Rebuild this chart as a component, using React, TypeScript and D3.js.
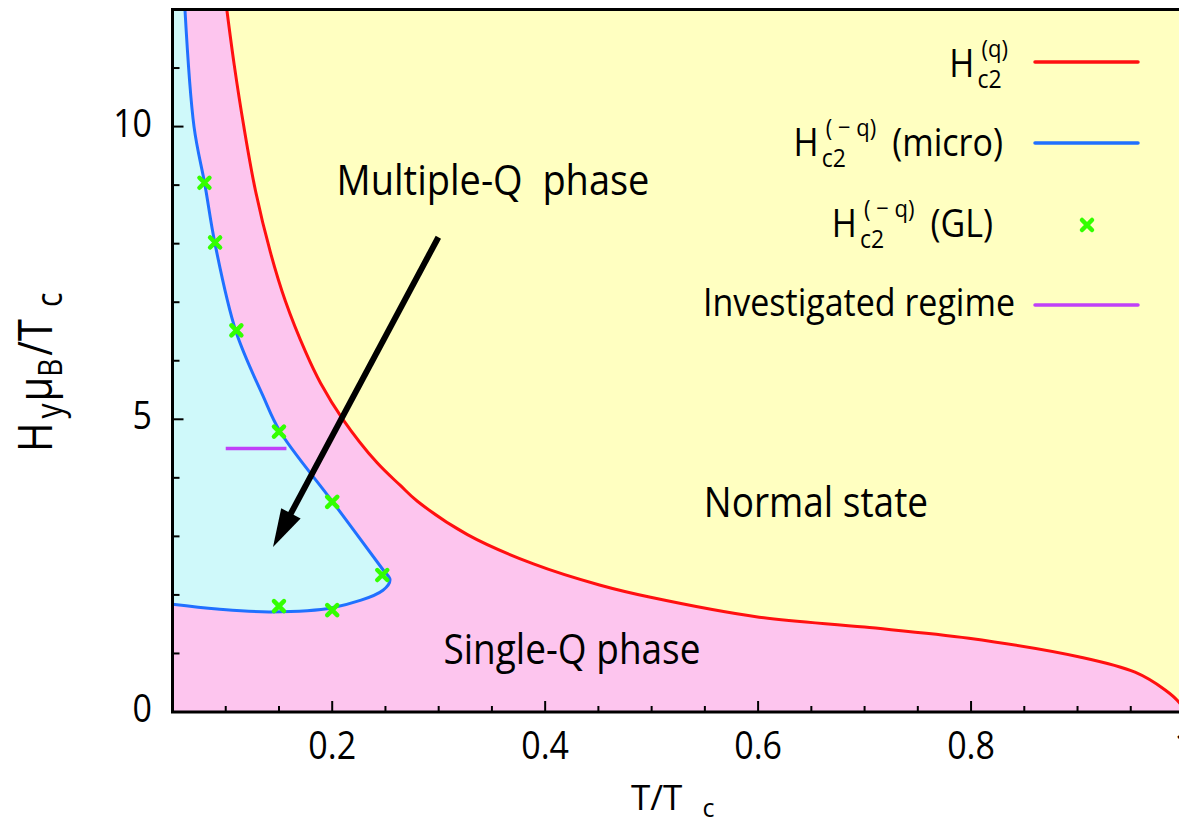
import React from "react";
import * as d3 from "d3";

// H_c2^(q) boundary (red)
const redT = [0.101, 0.108, 0.117, 0.128, 0.142, 0.156, 0.175, 0.189, 0.21, 0.242, 0.264, 0.28, 0.327, 0.389, 0.451, 0.499, 0.601, 0.7, 0.798, 0.902, 0.954, 0.982, 0.996, 1.0];
const redH = [12.0, 11.05, 10.0, 8.9, 7.85, 7.02, 6.15, 5.62, 5.0, 4.26, 3.87, 3.6, 3.03, 2.53, 2.17, 1.96, 1.62, 1.45, 1.26, 0.94, 0.68, 0.38, 0.15, 0.0];

// H_c2^(-q) micro boundary (blue), upper branch -> nose -> lower branch
const blueT = [0.0617, 0.0702, 0.0805, 0.0899, 0.1096, 0.135, 0.151, 0.2, 0.2477, 0.2543, 0.2477, 0.2, 0.1416, 0.0918, 0.05];
const blueH = [12.0, 10.0, 9.0, 8.0, 6.5, 5.4, 4.79, 3.6, 2.43, 2.26, 2.08, 1.78, 1.71, 1.76, 1.84];

// GL points (green crosses)
const glT = [0.08, 0.09, 0.11, 0.15, 0.2, 0.247, 0.15, 0.2];
const glH = [9.04, 8.02, 6.52, 4.79, 3.59, 2.34, 1.81, 1.74];

// investigated regime (purple)
const regimeT = [0.1, 0.157];
const regimeH = [4.5, 4.5];

// arrow from label to multiple-Q region
const arrowT = [0.2997, 0.1444];
const arrowH = [8.11, 2.82];

const xTicks = [0.2, 0.4, 0.6, 0.8, 1.0];
const xTickLabels = ["0.2", "0.4", "0.6", "0.8", "1"];
const yTicks = [0, 5, 10];
const yTickLabels = ["0", "5", "10"];

const FONT = "'Open Sans', 'DejaVu Sans', sans-serif";

const YELLOW = "#ffffc1";
const PINK = "#fdc5ee";
const CYAN = "#cff9fa";
const RED = "#ff1010";
const BLUE = "#2070ff";
const GREEN = "#33ff00";
const PURPLE = "#c040f8";

const Txt = ({ x, y, size, anchor = "start", s = 1.1, children }: any) => (
  <text
    transform={`translate(${x},${y}) scale(1,${s})`}
    fontSize={size}
    textAnchor={anchor}
    fontFamily={FONT}
    fontWeight={500}
    fill="#000"
    style={{ whiteSpace: "pre" }}
  >
    {children}
  </text>
);

const Cross = ({ cx, cy }: any) => (
  <path
    d={`M${cx - 5},${cy - 5}L${cx + 5},${cy + 5}M${cx - 5},${cy + 5}L${cx + 5},${cy - 5}`}
    stroke={GREEN}
    strokeWidth={4.5}
    strokeLinecap="round"
  />
);

export default function App() {
  const W = 1179,
    H = 826;
  const x = d3.scaleLinear().domain([0.05, 1.0]).range([172.5, 1184]);
  const y = d3.scaleLinear().domain([0, 12]).range([712, 9.5]);

  const redPts: [number, number][] = redT.map((t, i) => [t, redH[i]]);
  const bluePts: [number, number][] = blueT.map((t, i) => [t, blueH[i]]);

  const redLine = d3
    .line<[number, number]>()
    .x((d) => x(d[0]))
    .y((d) => y(d[1]))
    .curve(d3.curveCatmullRom.alpha(0.5));
  const blueLine = d3
    .line<[number, number]>()
    .x((d) => x(d[0]))
    .y((d) => y(d[1]))
    .curve(d3.curveCatmullRom.alpha(0.5));

  const pinkPath =
    redLine(redPts) + `L${x(0.05)},${y(0)}L${x(0.05)},${y(12)}Z`;
  const cyanPath = blueLine(bluePts) + `L${x(0.05)},${y(12)}Z`;

  // arrow geometry
  const ax0 = x(arrowT[0]),
    ay0 = y(arrowH[0]),
    ax1 = x(arrowT[1]),
    ay1 = y(arrowH[1]);
  const len = Math.hypot(ax1 - ax0, ay1 - ay0);
  const ux = (ax1 - ax0) / len,
    uy = (ay1 - ay0) / len;
  const headL = 38,
    headW = 11;
  const bx = ax1 - ux * headL,
    by = ay1 - uy * headL;
  const head = `M${ax1},${ay1}L${bx - uy * headW},${by + ux * headW}L${bx + uy * headW},${by - ux * headW}Z`;

  const xMinor = d3.range(0.1, 1.001, 0.05);
  const yMinor = d3.range(1, 12, 1);

  return (
    <svg
      width={W}
      height={H}
      style={{ position: "absolute", left: 0, top: 0, background: "#fff" }}
    >
      <defs>
        <clipPath id="plot">
          <rect x={x(0.05)} y={y(12)} width={x(1) - x(0.05)} height={y(0) - y(12)} />
        </clipPath>
      </defs>

      <g clipPath="url(#plot)">
        <rect x={x(0.05)} y={y(12)} width={x(1) - x(0.05)} height={y(0) - y(12)} fill={YELLOW} />
        <path d={pinkPath} fill={PINK} />
        <path d={cyanPath} fill={CYAN} />
        <path d={redLine(redPts) || ""} fill="none" stroke={RED} strokeWidth={3} />
        <path d={blueLine(bluePts) || ""} fill="none" stroke={BLUE} strokeWidth={3} />
        <line
          x1={x(regimeT[0])}
          x2={x(regimeT[1])}
          y1={y(regimeH[0])}
          y2={y(regimeH[1])}
          stroke={PURPLE}
          strokeWidth={3.5}
        />
        {glT.map((t, i) => (
          <Cross key={i} cx={x(t)} cy={y(glH[i])} />
        ))}
        <line x1={ax0} y1={ay0} x2={bx + ux * 4} y2={by + uy * 4} stroke="#000" strokeWidth={6} />
        <path d={head} fill="#000" />
      </g>

      {/* region labels */}
      <Txt x={493} y={195} size={38} anchor="middle" s={1.12}>Multiple-Q  phase</Txt>
      <Txt x={816} y={517} size={37} anchor="middle" s={1.12}>Normal state</Txt>
      <Txt x={572} y={664} size={37} anchor="middle" s={1.12}>Single-Q phase</Txt>

      {/* legend */}
      <g>
        <Txt x={1008} y={77} size={34} anchor="end">
          H<tspan fontSize={23} dx={3} dy={10}>c2</tspan>
          <tspan fontSize={22} dx={-20} dy={-28}>(q)</tspan>
        </Txt>
        <line x1={1035} x2={1138} y1={62} y2={62} stroke={RED} strokeWidth={3.5} strokeLinecap="round" />

        <Txt x={1003} y={156} size={34} anchor="end">
          H<tspan fontSize={23} dx={3} dy={10}>c2</tspan>
          <tspan fontSize={22} dx={-20} dy={-28}>( − q)</tspan>
          <tspan dx={16} dy={18}>(micro)</tspan>
        </Txt>
        <line x1={1035} x2={1138} y1={143} y2={143} stroke={BLUE} strokeWidth={3.5} strokeLinecap="round" />

        <Txt x={993} y={237} size={34} anchor="end">
          H<tspan fontSize={23} dx={3} dy={10}>c2</tspan>
          <tspan fontSize={22} dx={-20} dy={-28}>( − q)</tspan>
          <tspan dx={16} dy={18}>(GL)</tspan>
        </Txt>
        <Cross cx={1087} cy={225} />

        <Txt x={1015} y={316} size={34} anchor="end">Investigated regime</Txt>
        <line x1={1035} x2={1138} y1={305} y2={305} stroke={PURPLE} strokeWidth={3.5} strokeLinecap="round" />
      </g>

      {/* ticks */}
      <g stroke="#000" strokeWidth={2}>
        {xMinor.map((t, i) => {
          const major = xTicks.some((m) => Math.abs(m - t) < 1e-6);
          return <line key={i} x1={x(t)} x2={x(t)} y1={y(0)} y2={y(0) - (major ? 11 : 6)} />;
        })}
        {yMinor.map((h, i) => {
          const major = yTicks.includes(h);
          return <line key={i} x1={x(0.05)} x2={x(0.05) + (major ? 11 : 7)} y1={y(h)} y2={y(h)} />;
        })}
      </g>

      {/* frame */}
      <path
        d={`M${x(1)},${y(12)}L${x(0.05)},${y(12)}L${x(0.05)},${y(0)}L${x(1)},${y(0)}`}
        fill="none"
        stroke="#000"
        strokeWidth={3}
      />

      {/* tick labels */}
      {xTicks.map((t, i) => (
        <Txt key={i} x={x(t)} y={759} size={34} anchor="middle" s={1.12}>
          {xTickLabels[i]}
        </Txt>
      ))}
      {yTicks.map((h, i) => (
        <Txt key={i} x={152} y={y(h) + 10} size={34} anchor="end" s={1.12}>
          {yTickLabels[i]}
        </Txt>
      ))}

      {/* axis titles */}
      <Txt x={631} y={810} size={35} s={1.0}>
        T/T<tspan dx={20} dy={7} fontSize={25}>c</tspan>
      </Txt>
      <text
        transform="translate(52,452) rotate(-90) scale(1,1.2)"
        fontFamily={FONT}
        fontWeight={500}
        fontSize={40}
        fill="#000"
      >
        H<tspan fontSize={30} dx={4} dy={8}>y</tspan>
        <tspan dx={2} dy={-8}>μ</tspan>
        <tspan fontSize={28} dy={8}>B</tspan>
        <tspan dx={3} dy={-8}>/T</tspan>
        <tspan fontSize={30} dx={12} dy={8}>c</tspan>
      </text>
    </svg>
  );
}
